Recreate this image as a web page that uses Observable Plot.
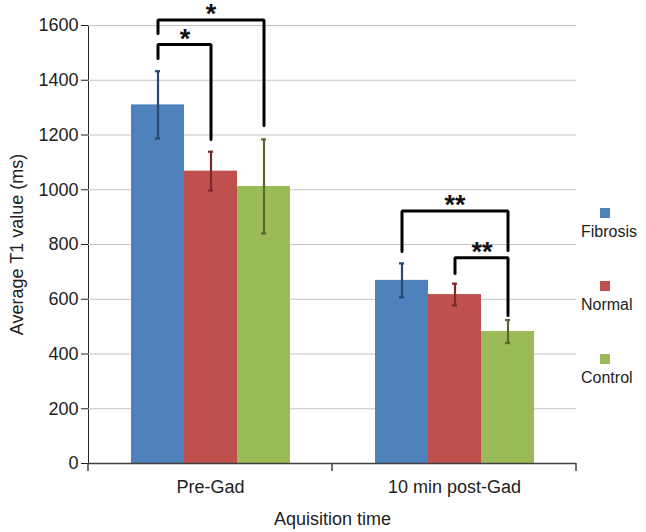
<!DOCTYPE html>
<html>
<head>
<meta charset="utf-8">
<script src="https://cdn.jsdelivr.net/npm/d3@7"></script>
<script src="https://cdn.jsdelivr.net/npm/@observablehq/plot@0.6"></script>
<style>
  html, body { margin: 0; padding: 0; background: #fff; }
  #chart svg { display: block; }
</style>
</head>
<body>
<div id="chart"></div>
<script>
// ---- data ----
const groups = ["Pre-Gad", "10 min post-Gad"];
const series = ["Fibrosis", "Normal", "Control"];
const fibrosisMean = [1310, 669];
const normalMean = [1068, 617];
const controlMean = [1012, 482];
const fibrosisErr = [123, 62];
const normalErr = [71, 40];
const controlErr = [172, 42];
const yTicks = [0, 200, 400, 600, 800, 1000, 1200, 1400, 1600];
// significance brackets: group, from, to, top, left end, right end, label
const bracketGroup = ["Pre-Gad", "Pre-Gad", "10 min post-Gad", "10 min post-Gad"];
const bracketFrom = ["Fibrosis", "Fibrosis", "Fibrosis", "Normal"];
const bracketTo = ["Normal", "Control", "Control", "Control"];
const bracketTop = [1531, 1620, 922, 752];
const bracketLeftEnd = [1479, 1571, 774, 694];
const bracketRightEnd = [1184, 1235, 778, 541];
const bracketLabel = ["*", "*", "**", "**"];

// ---- styles ----
const barColors = ["#4F81BD", "#C0504D", "#9BBB59"];
const errColors = ["#27496f", "#7a2b29", "#56692c"];

const W = 646, H = 532, ML = 88, MR = 70, MT = 25, MB = 69;
const padOuter = 0.76;

const means = [fibrosisMean, normalMean, controlMean];
const errs = [fibrosisErr, normalErr, controlErr];
const rows = [];
groups.forEach((g, gi) => series.forEach((s, si) => {
  rows.push({group: g, series: s, si, value: means[si][gi], lo: means[si][gi] - errs[si][gi], hi: means[si][gi] + errs[si][gi]});
}));

const bracketPts = [];
bracketGroup.forEach((g, i) => {
  bracketPts.push({id: i, group: g, x: bracketFrom[i], y: bracketLeftEnd[i]});
  bracketPts.push({id: i, group: g, x: bracketFrom[i], y: bracketTop[i]});
  bracketPts.push({id: i, group: g, x: bracketTo[i], y: bracketTop[i]});
  bracketPts.push({id: i, group: g, x: bracketTo[i], y: bracketRightEnd[i]});
});

const bw = ((W - ML - MR) / groups.length) / (series.length + 2 * padOuter);
const starMarks = bracketGroup.map((g, i) => {
  const mid = (series.indexOf(bracketFrom[i]) + series.indexOf(bracketTo[i])) / 2;
  return Plot.text([{group: g, x: series[Math.floor(mid)], y: bracketTop[i], t: bracketLabel[i]}], {
    fx: "group", x: "x", y: "y", text: "t",
    dx: (mid % 1) * bw, dy: -5.5,
    lineAnchor: "middle", fontSize: 27, fontWeight: "bold", fill: "#111"
  });
});

const plot = Plot.plot({
  width: W, height: H,
  marginLeft: ML, marginRight: MR, marginTop: MT, marginBottom: MB,
  style: {fontFamily: "'Liberation Sans', Arial, Helvetica, sans-serif", fontSize: "18px", color: "#222", background: "#fff"},
  color: {type: "identity"},
  fx: {domain: groups, padding: 0, label: "Aquisition time", labelAnchor: "center", labelArrow: false, tickSize: 0, tickPadding: 17, labelOffset: 61},
  x: {domain: series, axis: null, paddingInner: 0, paddingOuter: padOuter},
  y: {domain: [0, 1600], ticks: yTicks, tickSize: 7, tickPadding: 3, tickFormat: d => String(d),
      label: "Average T1 value (ms)", labelAnchor: "center", labelArrow: false, labelOffset: 78, line: true},
  marks: [
    Plot.ruleY(yTicks.filter(d => d > 0), {stroke: "#c4c4c4", strokeWidth: 1}),
    Plot.barY(rows, {fx: "group", x: "series", y: "value", fill: d => barColors[d.si]}),
    Plot.ruleX(rows, {fx: "group", x: "series", y1: "lo", y2: "hi", stroke: d => errColors[d.si], strokeWidth: 2.2}),
    Plot.tickY(rows, {fx: "group", x: "series", y: "lo", stroke: d => errColors[d.si], strokeWidth: 2.2, insetLeft: (bw - 6) / 2, insetRight: (bw - 6) / 2}),
    Plot.tickY(rows, {fx: "group", x: "series", y: "hi", stroke: d => errColors[d.si], strokeWidth: 2.2, insetLeft: (bw - 6) / 2, insetRight: (bw - 6) / 2}),
    Plot.ruleY([0], {stroke: "#404040", strokeWidth: 1.5}),
    Plot.line(bracketPts, {fx: "group", x: "x", y: "y", z: "id", stroke: "#000", strokeWidth: 3, strokeLinejoin: "miter"}),
    ...starMarks
  ]
});

const svg = d3.select(plot);
// x-axis boundary ticks
const fxs = plot.scale("fx");
const y0 = plot.scale("y").apply(0);
const bounds = [];
groups.forEach((g, i) => { const a = fxs.apply(g); if (i === 0) bounds.push(a); bounds.push(a + fxs.bandwidth); });
svg.append("g").selectAll("line").data(bounds).join("line")
  .attr("x1", d => d).attr("x2", d => d).attr("y1", y0).attr("y2", y0 + 8)
  .attr("stroke", "#404040").attr("stroke-width", 1.5);

// legend
const lg = svg.append("g").attr("font-family", "'Liberation Sans', Arial, sans-serif").attr("font-size", 16)
  .attr("fill", "#222").attr("text-anchor", "start");
series.forEach((s, i) => {
  const cy = 213 + i * 73;
  lg.append("rect").attr("x", 600).attr("y", cy - 5).attr("width", 10).attr("height", 10).attr("fill", barColors[i]);
  lg.append("text").attr("x", 581).attr("y", cy + 24).text(s);
});

document.getElementById("chart").appendChild(plot);
</script>
</body>
</html>
